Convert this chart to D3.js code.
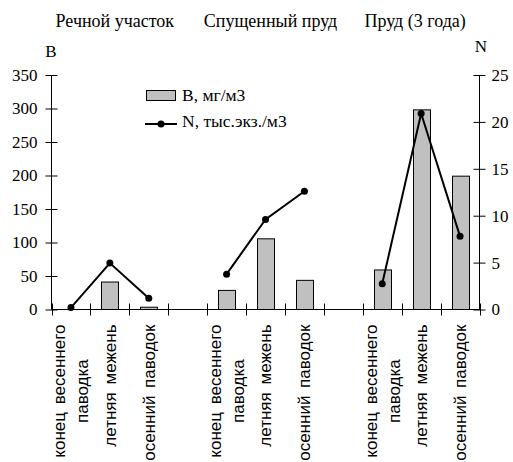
<!DOCTYPE html>
<html>
<head>
<meta charset="utf-8">
<script src="https://cdn.jsdelivr.net/npm/d3@7"></script>
<style>
  body { margin: 0; background: #fff; }
  svg { display: block; }
</style>
</head>
<body>
<svg></svg>
<script>
const svgWidth = 513;
const svgHeight = 462;
const SERIF = '"Liberation Serif"';
const SANS = '"Liberation Sans"';

// Data
const groups = ["Речной участок", "Спущенный пруд", "Пруд (3 года)"];
const seasons = [["конец весеннего", "паводка"], ["летняя межень"], ["осенний паводок"]];
const biomass = [[0, 41, 3.4], [28.5, 105.5, 43.5], [59, 298, 199]];   // B, мг/м3
const density = [[0.2, 4.95, 1.2], [3.77, 9.6, 12.6], [2.75, 20.9, 7.8]]; // N, тыс.экз./м3
const ticksB = [0, 50, 100, 150, 200, 250, 300, 350];
const ticksN = [0, 5, 10, 15, 20, 25];
const legendLabels = ["B, мг/м3", "N, тыс.экз./м3"];

const plot = { left: 51.5, right: 479.5, top: 75, bottom: 309.5 };

const svg = d3.select("svg")
    .attr("width", svgWidth)
    .attr("height", svgHeight);

// slots: 3 seasons per group, an empty slot between groups
const slots = [];
groups.forEach((g, gi) => {
    seasons.forEach((s, si) => slots.push(`${gi}-${si}`));
    if (gi < groups.length - 1) slots.push(`gap-${gi}`);
});

const x = d3.scaleBand()
    .domain(slots)
    .range([plot.left, plot.right]);

const yB = d3.scaleLinear().domain([0, 350]).range([plot.bottom, plot.top]);
const yN = d3.scaleLinear().domain([0, 25]).range([plot.bottom, plot.top]);

const cx = key => x(key) + x.bandwidth() / 2;

// Bars
const barData = [];
const pointData = [];
groups.forEach((g, gi) => {
    seasons.forEach((s, si) => {
        barData.push({ key: `${gi}-${si}`, value: biomass[gi][si] });
        pointData.push({ key: `${gi}-${si}`, group: gi, value: density[gi][si] });
    });
});

const barW = x.bandwidth() * 0.43;
svg.append("g")
    .selectAll("rect")
    .data(barData.filter(d => d.value > 0))
    .enter()
    .append("rect")
    .attr("x", d => Math.round(cx(d.key) - barW / 2) + 0.5)
    .attr("y", d => yB(d.value))
    .attr("width", Math.round(barW))
    .attr("height", d => plot.bottom - yB(d.value))
    .attr("fill", "#c0c0c0")
    .attr("stroke", "#000")
    .attr("stroke-width", 1);

// Axes
const leftAxis = svg.append("g")
    .attr("transform", `translate(${plot.left},0)`)
    .call(d3.axisLeft(yB).tickValues(ticksB).tickSize(6).tickPadding(8));
leftAxis.selectAll(".tick line").attr("x2", 6).attr("x1", -6);

const rightAxis = svg.append("g")
    .attr("transform", `translate(${plot.right},0)`)
    .call(d3.axisRight(yN).tickValues(ticksN).tickSize(6).tickPadding(6));
rightAxis.selectAll(".tick line").attr("x1", -6).attr("x2", 6);

[leftAxis, rightAxis].forEach(a => {
    a.attr("font-family", null).attr("font-size", null);
    a.select(".domain").attr("d", `M0,${plot.top}V${plot.bottom}`).attr("stroke", "#000");
    a.selectAll("text")
        .style("font-family", SERIF)
        .style("font-size", "17px")
        .attr("fill", "#000");
    a.selectAll(".tick line").attr("stroke", "#000");
});

// x axis with ticks between categories
const xAxis = svg.append("g");
xAxis.append("line")
    .attr("x1", plot.left).attr("x2", plot.right)
    .attr("y1", plot.bottom).attr("y2", plot.bottom)
    .attr("stroke", "#000");
const bounds = slots.map(k => x(k)).concat([plot.right]);
xAxis.selectAll(".xtick")
    .data(bounds)
    .enter()
    .append("line")
    .attr("x1", d => Math.round(d) + 0.5).attr("x2", d => Math.round(d) + 0.5)
    .attr("y1", plot.bottom - 6).attr("y2", plot.bottom + 6)
    .attr("stroke", "#000");

// N lines, one per group
const line = d3.line()
    .x(d => cx(d.key))
    .y(d => yN(d.value));

svg.append("g")
    .selectAll("path")
    .data(d3.groups(pointData, d => d.group))
    .enter()
    .append("path")
    .attr("d", d => line(d[1]))
    .attr("fill", "none")
    .attr("stroke", "#000")
    .attr("stroke-width", 2);

svg.append("g")
    .selectAll("circle")
    .data(pointData)
    .enter()
    .append("circle")
    .attr("cx", d => cx(d.key))
    .attr("cy", d => yN(d.value))
    .attr("r", 3.5)
    .attr("fill", "#000");

// Category labels (rotated)
const catG = svg.append("g");
groups.forEach((g, gi) => {
    seasons.forEach((lines, si) => {
        const key = `${gi}-${si}`;
        const gLabel = catG.append("g")
            .attr("transform", `translate(${cx(key)},${plot.bottom + 15}) rotate(-90)`);
        const texts = lines.map(t => gLabel.append("text")
            .style("font-family", SANS)
            .style("font-size", "17px")
            .style("word-spacing", "3px")
            .attr("fill", "#000")
            .text(t));
        const maxLen = d3.max(texts, t => t.node().getComputedTextLength());
        const gap = 23;
        texts.forEach((t, i) => {
            t.attr("x", -maxLen / 2)
             .attr("y", (i - (lines.length - 1) / 2) * gap)
             .attr("dy", "0.35em")
             .attr("text-anchor", "middle");
        });
    });
});

// serif text helper
const serifText = (sel, size) => sel
    .style("font-family", SERIF)
    .style("font-size", size + "px")
    .attr("fill", "#000");

// Group titles
const titleShift = [5, 5, -6];
svg.append("g")
    .selectAll("text")
    .data(groups)
    .enter()
    .append("text")
    .attr("x", (d, i) => cx(`${i}-1`) + titleShift[i])
    .attr("y", 27)
    .attr("text-anchor", "middle")
    .call(serifText, 18)
    .text(d => d);

// Axis titles
svg.append("text")
    .attr("x", 51).attr("y", 57)
    .attr("text-anchor", "middle")
    .call(serifText, 17)
    .text("B");
svg.append("text")
    .attr("x", 481).attr("y", 52)
    .attr("text-anchor", "middle")
    .call(serifText, 17)
    .text("N");

// Legend
const legend = svg.append("g").attr("transform", "translate(146,95)");
legend.append("rect")
    .attr("x", 0.5).attr("y", -4.5)
    .attr("width", 29).attr("height", 10)
    .attr("fill", "#c0c0c0").attr("stroke", "#000");
legend.append("line")
    .attr("x1", -1).attr("x2", 31)
    .attr("y1", 29).attr("y2", 29)
    .attr("stroke", "#000").attr("stroke-width", 2);
legend.append("circle")
    .attr("cx", 15).attr("cy", 29).attr("r", 3.5).attr("fill", "#000");
legend.selectAll(".lt")
    .data(legendLabels)
    .enter()
    .append("text")
    .attr("x", 36)
    .attr("y", (d, i) => 6 + i * 26)
    .call(serifText, 17.5)
    .text(d => d);
</script>
</body>
</html>
